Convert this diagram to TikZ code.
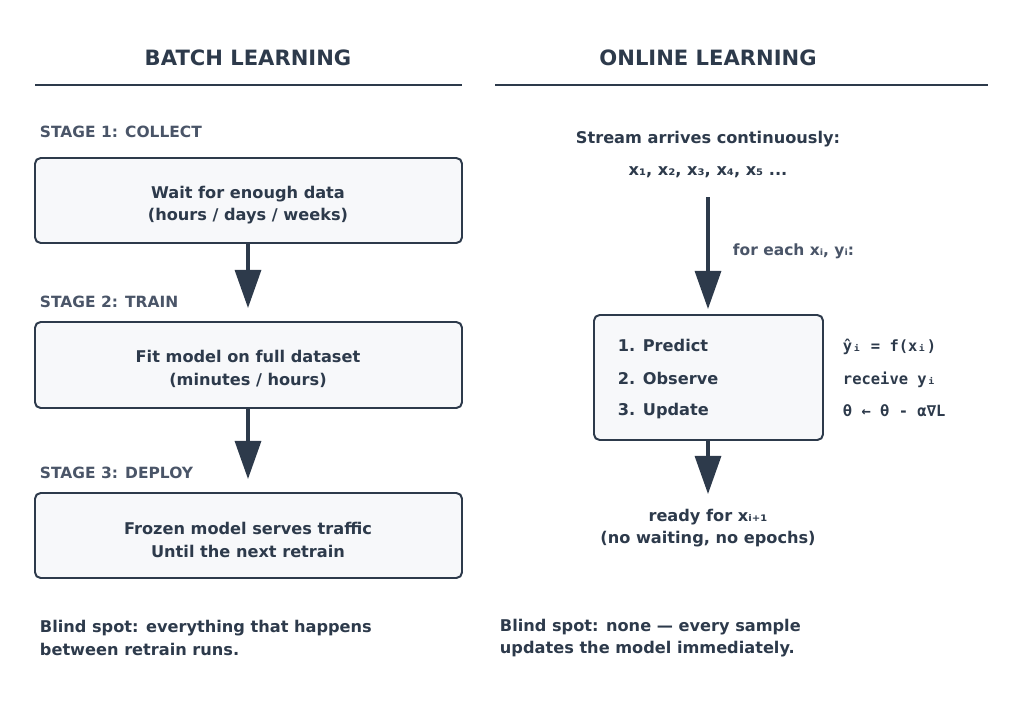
\documentclass[tikz,border=0pt]{standalone}
\usepackage{fontspec}
\setmainfont{DejaVu Sans}
\setmonofont{DejaVu Sans Mono}
\usetikzlibrary{arrows.meta}
\definecolor{ink}{HTML}{2D3A4B}
\definecolor{stagegray}{HTML}{4A5568}
\definecolor{boxfill}{HTML}{F7F8FA}
\tikzstyle{stage}=[anchor=west, text=stagegray, font=\bfseries\fontsize{11}{13}\selectfont]
\tikzstyle{box}=[draw=ink, line width=1.4pt, fill=boxfill, rounded corners=4pt]
\tikzstyle{txt}=[text=ink, font=\bfseries\fontsize{11.5}{14}\selectfont, align=center]
\tikzstyle{mono}=[anchor=west, text=ink, font=\ttfamily\bfseries\fontsize{11}{13}\selectfont]
\tikzstyle{arrow}=[draw=ink, line width=2.2pt, -{Triangle[length=0.95cm, width=0.65cm]}]
\begin{document}
\begin{tikzpicture}[x=0.025cm, y=-0.025cm]
  \useasboundingbox (0,0) rectangle (1024,716);
  \begin{scope}
    % headers
    \node (hb) at (248,58) [txt, font=\bfseries\fontsize{15}{18}\selectfont] {BATCH LEARNING};
    \node (ho) at (708,58) [txt, font=\bfseries\fontsize{15}{18}\selectfont] {ONLINE LEARNING};
    \draw [ink, line width=1.4pt] (35,85) -- (462,85);
    \draw [ink, line width=1.4pt] (495,85) -- (988,85);
  \end{scope}
  \begin{scope}
    % batch side
    \node (s1) at (35,132) [stage] {STAGE 1: COLLECT};
    \draw [box] (35,158) rectangle (462,243);
    \node (b1) at (248,205) [txt] {Wait for enough data\\[2pt](hours / days / weeks)};
    \node (s2) at (35,302) [stage] {STAGE 2: TRAIN};
    \draw [box] (35,322) rectangle (462,408);
    \node (b2) at (248,369) [txt] {Fit model on full dataset\\[2pt](minutes / hours)};
    \node (s3) at (35,473) [stage] {STAGE 3: DEPLOY};
    \draw [box] (35,493) rectangle (462,578);
    \node (b3) at (248,540) [txt] {Frozen model serves traffic\\[2pt]Until the next retrain};
    \coordinate (a1s) at (248,243); \coordinate (a1e) at (248,308);
    \coordinate (a2s) at (248,408); \coordinate (a2e) at (248,479);
    \draw [arrow] (a1s) -- (a1e);
    \draw [arrow] (a2s) -- (a2e);
    \node (bl) at (35,638) [txt, anchor=west, align=left] {Blind spot: everything that happens\\[2pt]between retrain runs.};
  \end{scope}
  \begin{scope}
    % online side
    \node (st) at (708,139) [txt] {Stream arrives continuously:};
    \node (xs) at (708,172) [txt] {x₁, x₂, x₃, x₄, x₅ ...};
    \coordinate (a3s) at (708,197); \coordinate (a3e) at (708,309);
    \draw [arrow] (a3s) -- (a3e);
    \node (fe) at (728,251) [txt, anchor=west, text=stagegray, font=\bfseries\fontsize{11}{13}\selectfont] {for each xᵢ, yᵢ:};
    \draw [box] (594,315) rectangle (823,440);
    \node (p1) at (613,345) [txt, anchor=west] {1. Predict};
    \node (p2) at (613,378) [txt, anchor=west] {2. Observe};
    \node (p3) at (613,411) [txt, anchor=west] {3. Update};
    \node (f1) at (838,347) [mono] {ŷᵢ = f(xᵢ)};
    \node (f2) at (838,380) [mono] {receive yᵢ};
    \node (f3) at (838,411) [mono] {θ ← θ - α∇L};
    \coordinate (a4s) at (708,440); \coordinate (a4e) at (708,494);
    \draw [arrow] (a4s) -- (a4e);
    \node (rd) at (708,528) [txt] {ready for xᵢ₊₁\\[2pt](no waiting, no epochs)};
    \node (bo) at (495,638) [txt, anchor=west, align=left] {Blind spot: none — every sample\\[2pt]updates the model immediately.};
  \end{scope}
\end{tikzpicture}
\end{document}
